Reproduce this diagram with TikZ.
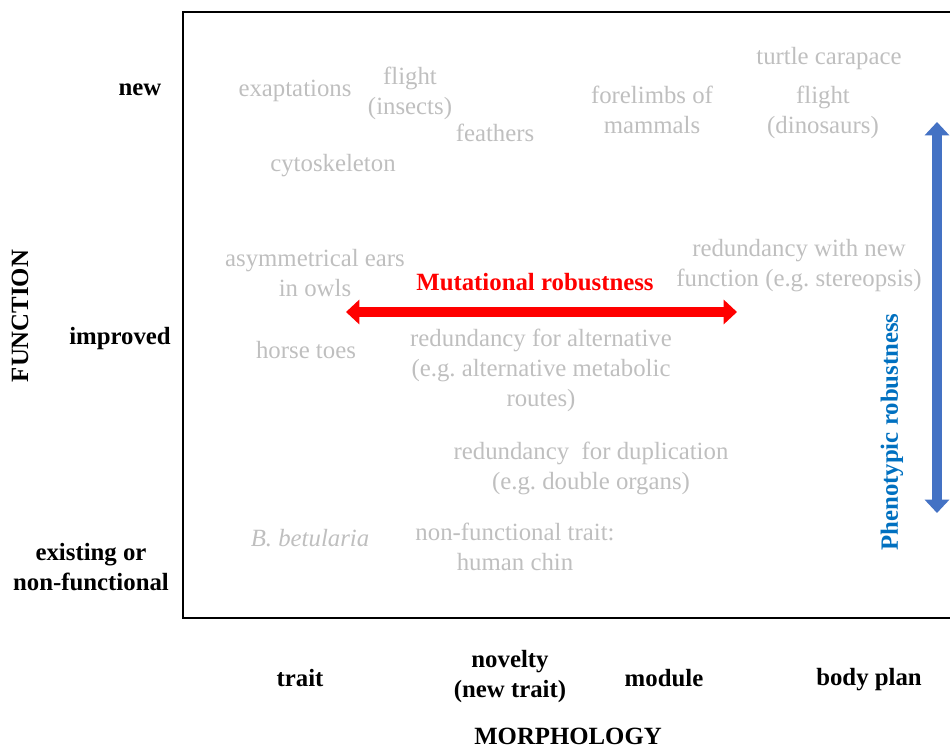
\documentclass[tikz,border=0pt]{standalone}
\usepackage{fontspec}
\setmainfont{Liberation Serif}
\usepackage{xcolor}
\usetikzlibrary{arrows.meta}
\frenchspacing

\definecolor{entrygrey}{RGB}{191,191,191}
\definecolor{mutred}{RGB}{255,0,0}
\definecolor{phenoblue}{RGB}{68,114,196}
\definecolor{phenotext}{RGB}{0,112,192}

\tikzset{
  entry/.style={color=entrygrey, align=center, inner sep=0.75pt, font=\fontsize{18.6}{22.5}\selectfont},
  axislabel/.style={color=black, align=center, inner sep=0.75pt, font=\fontsize{18.6}{22.5}\selectfont\bfseries},
  fatarrow/.style={line width=7.5pt, {Triangle[width=18pt,length=10pt]}-{Triangle[width=18pt,length=10pt]}}
}

\begin{document}
\begin{tikzpicture}[x=0.75pt,y=0.75pt,yscale=-1,xscale=1]
\useasboundingbox (0,0) rectangle (950,749);

%Shape: Rectangle
\draw [line width=1.5pt] (183,12) rectangle (954,618);

%Straight Lines: horizontal double arrow
\coordinate (mutW) at (346,312);
\coordinate (mutE) at (737,312);
\draw [fatarrow, mutred] (mutW) -- (mutE);
%Straight Lines: vertical double arrow
\coordinate (phenoN) at (937,122);
\coordinate (phenoS) at (937,513);
\draw [fatarrow, phenoblue] (phenoN) -- (phenoS);

% Text Node
\node [axislabel, text=mutred] (mutlabel) at (535,282) {Mutational robustness};
% Text Node
\node [axislabel, text=phenotext, rotate=90] (phenolabel) at (892,432) {Phenotypic robustness};

% Text Node
\node [entry] (exapt) at (295,91) {exaptations};
% Text Node
\node [entry] (insects) at (410,93) {flight\\(insects)};
% Text Node
\node [entry] (feathers) at (495,133) {feathers};
% Text Node
\node [entry] (forelimbs) at (652,110) {forelimbs of\\mammals};
% Text Node
\node [entry] (carapace) at (829,59) {turtle carapace};
% Text Node
\node [entry] (dinos) at (823,112) {flight\\(dinosaurs)};
% Text Node
\node [entry] (cyto) at (333,166) {cytoskeleton};
% Text Node
\node [entry] (owls) at (315,273) {asymmetrical ears\\in owls};
% Text Node
\node [entry] (stereo) at (799,266) {redundancy with new\\function (e.g. stereopsis)};
% Text Node
\node [entry] (horse) at (306,350) {horse toes};
% Text Node
\node [entry] (metab) at (541,370) {redundancy for alternative\\(e.g. alternative metabolic\\routes)};
% Text Node
\node [entry] (dupl) at (591,468) {redundancy\ \ for duplication\\(e.g. double organs)};
% Text Node
\node [entry, font=\fontsize{18.6}{22.5}\selectfont\itshape] (betul) at (310,538) {B. betularia};
% Text Node
\node [entry] (chin) at (515,547) {non-functional trait:\\human chin};

% Text Node
\node [axislabel] (fnew) at (140,90) {new};
% Text Node
\node [axislabel] (fimp) at (120,339) {improved};
% Text Node
\node [axislabel] (fexist) at (91,567) {existing or\\non-functional};
% Text Node
\node [axislabel, rotate=90] (function) at (20,316) {FUNCTION};

% Text Node
\node [axislabel] (mtrait) at (300,678) {trait};
% Text Node
\node [axislabel] (mnovel) at (510,677) {novelty\\(new trait)};
% Text Node
\node [axislabel] (mmodule) at (664,678) {module};
% Text Node
\node [axislabel] (mbody) at (869,680) {body plan};
% Text Node
\node [axislabel] (morph) at (568,736) {MORPHOLOGY};

\end{tikzpicture}
\end{document}
